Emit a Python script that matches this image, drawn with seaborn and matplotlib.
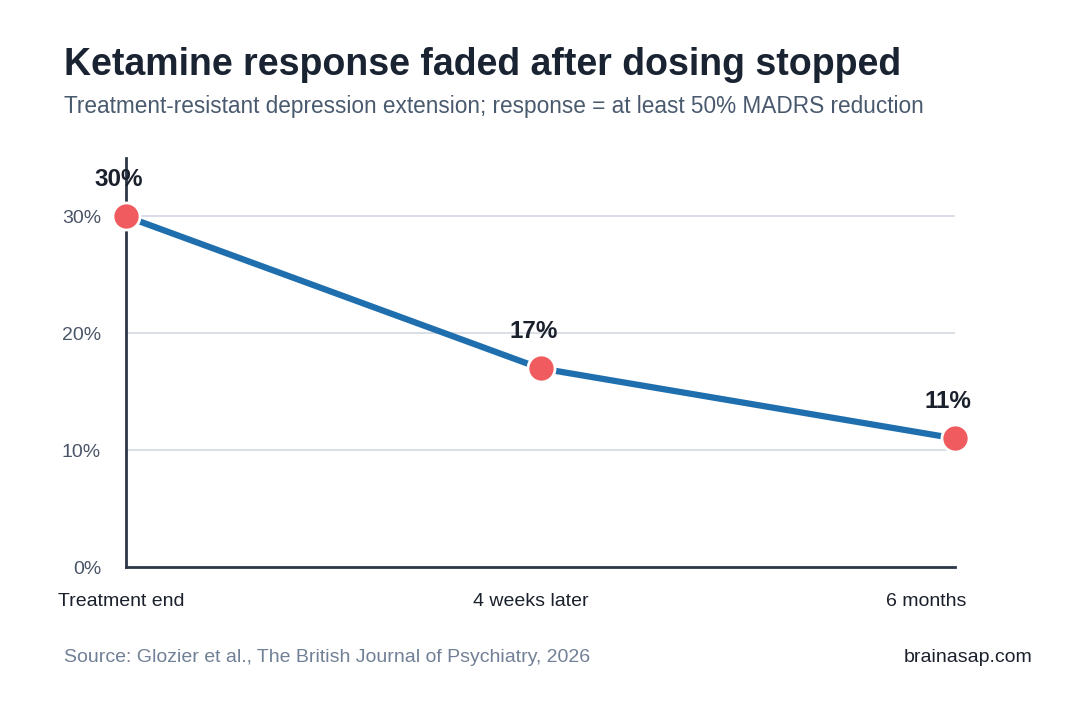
import matplotlib
matplotlib.use("Agg")
import matplotlib.pyplot as plt
import matplotlib.transforms as mtransforms
import seaborn as sns
import pandas as pd

timepoints = ["Treatment end", "4 weeks later", "6 months"]
response_pct = [30, 17, 11]
y_ticks = [0, 10, 20, 30]
y_tick_labels = ["0%", "10%", "20%", "30%"]

sns.set_theme(style="white")
plt.rcParams["font.family"] = ["Liberation Sans", "DejaVu Sans"]

df = pd.DataFrame({"x": range(len(timepoints)), "y": response_pct, "label": timepoints})

fig = plt.figure(figsize=(10.8, 7.2), dpi=100)
ax = fig.add_axes([126/1080, 1 - 567/720, (955 - 126)/1080, (567 - 158)/720])

for t in [10, 20, 30]:
    ax.axhline(t, color="#d3d8e3", lw=1.2, zorder=0)

sns.lineplot(data=df, x="x", y="y", ax=ax, color="#1f6fae", lw=4.5, zorder=2)
sns.scatterplot(data=df, x="x", y="y", ax=ax, color="#ef5b5e", s=380,
                edgecolor="white", linewidth=2, zorder=3, clip_on=False)

for xi, yi in zip(df["x"], df["y"]):
    ax.annotate(f"{yi}%", (xi, yi), xytext=(-5, 26.5), textcoords="offset points",
                ha="center", va="center", fontsize=17.5, fontweight="bold",
                color="#1a202c", annotation_clip=False)

ax.set_xlim(0, 2)
ax.set_ylim(0, 35)
ax.set_xticks(df["x"])
ax.set_xticklabels(timepoints)
ax.set_yticks(y_ticks)
ax.set_yticklabels(y_tick_labels)
ax.set_xlabel("")
ax.set_ylabel("")
ax.tick_params(axis="x", length=0, pad=19, labelsize=14, labelcolor="#1a202c")
ax.tick_params(axis="y", length=0, pad=18, labelsize=14, labelcolor="#4a5568")

# nudge x tick labels (label placement style of the reference)
label_shift_px = [-5, -10, -29]
for lab, dx in zip(ax.get_xticklabels(), label_shift_px):
    lab.set_transform(lab.get_transform() +
                      mtransforms.ScaledTranslation(dx / 100, 0, fig.dpi_scale_trans))

for s in ["top", "right"]:
    ax.spines[s].set_visible(False)
for s in ["left", "bottom"]:
    ax.spines[s].set_color("#2d3748")
    ax.spines[s].set_linewidth(2)

fig.text(64/1080, 1 - 65/720, "Ketamine response faded after dosing stopped",
         fontsize=27, fontweight="bold", color="#1a2332", va="center", ha="left")
fig.text(64/1080, 1 - 106/720,
         "Treatment-resistant depression extension; response = at least 50% MADRS reduction",
         fontsize=16.3, color="#4a5a6e", va="center", ha="left")
fig.text(64/1080, 1 - 657/720, "Source: Glozier et al., The British Journal of Psychiatry, 2026",
         fontsize=14, color="#718096", va="center", ha="left")
fig.text(1032/1080, 1 - 657/720, "brainasap.com", fontsize=14, color="#1a202c",
         va="center", ha="right")

fig.savefig("out.png", dpi=100, facecolor="white")
